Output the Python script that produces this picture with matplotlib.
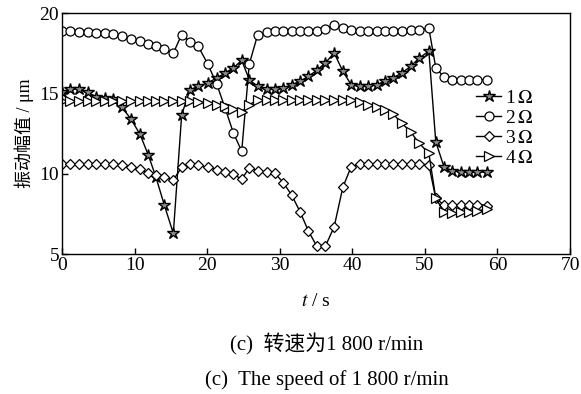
import numpy as np
import matplotlib
matplotlib.use('Agg')
import matplotlib.pyplot as plt

plt.rcParams['font.family'] = ['Liberation Serif', 'Noto Sans CJK SC']
plt.rcParams['mathtext.fontset'] = 'stix'

# sample times (s), shared by all four curves
t = [0.0, 1.1, 2.34, 3.54, 4.69, 5.93, 7.03, 8.23, 9.51, 10.75,
     11.89, 12.95, 14.1, 15.34, 16.49, 17.64, 18.78, 20.08, 21.32, 22.46,
     23.61, 24.76, 25.81, 26.97, 28.21, 29.35, 30.5, 31.65, 32.8, 33.94,
     35.1, 36.3, 37.5, 38.7, 39.85, 41.0, 42.2, 43.36, 44.51, 45.65,
     46.81, 48.05, 49.2, 50.55, 51.5, 52.65, 53.8, 54.95, 56.1, 57.25, 58.6]

amp_1 = [15.06, 15.27, 15.27, 15.06, 14.8, 14.7, 14.65, 14.15, 13.4, 12.45,
         11.17, 9.78, 8.05, 6.29, 13.67, 15.23, 15.43, 15.65, 15.96, 16.27,
         16.58, 17.06, 15.85, 15.43, 15.27, 15.27, 15.33, 15.54, 15.75, 16.06,
         16.43, 16.9, 17.52, 16.37, 15.54, 15.43, 15.43, 15.54, 15.75, 15.96,
         16.27, 16.68, 17.2, 17.62, 12.0, 10.4, 10.19, 10.13, 10.13, 10.13, 10.08]

amp_2 = [18.85, 18.85, 18.84, 18.8, 18.78, 18.74, 18.68, 18.55, 18.4, 18.25,
         18.1, 17.92, 17.75, 17.5, 18.66, 18.2, 17.92, 16.83, 15.58, 14.1,
         12.55, 11.4, 16.83, 18.66, 18.8, 18.86, 18.86, 18.86, 18.86, 18.86,
         18.86, 19.0, 19.25, 19.05, 18.95, 18.9, 18.9, 18.9, 18.9, 18.9,
         18.9, 18.95, 18.97, 19.05, 16.6, 16.0, 15.85, 15.85, 15.85, 15.85, 15.85]

amp_3 = [10.61, 10.61, 10.6, 10.6, 10.6, 10.59, 10.58, 10.55, 10.44, 10.28,
         10.03, 9.93, 9.8, 9.61, 10.4, 10.58, 10.52, 10.4, 10.25, 10.1,
         9.98, 9.66, 10.37, 10.18, 10.08, 10.03, 9.44, 8.67, 7.64, 6.45,
         5.5, 5.5, 6.7, 9.16, 10.44, 10.61, 10.61, 10.61, 10.61, 10.61,
         10.61, 10.61, 10.61, 10.55, 8.47, 8.05, 8.05, 8.05, 8.05, 8.05, 7.99]

amp_4 = [14.53, 14.55, 14.55, 14.55, 14.55, 14.55, 14.55, 14.55, 14.55, 14.55,
         14.55, 14.55, 14.55, 14.55, 14.52, 14.5, 14.45, 14.4, 14.3, 14.2,
         14.05, 13.85, 14.3, 14.6, 14.6, 14.6, 14.6, 14.6, 14.6, 14.6,
         14.6, 14.6, 14.6, 14.6, 14.6, 14.45, 14.3, 14.15, 13.98, 13.71,
         13.15, 12.6, 11.9, 11.28, 8.47, 7.64, 7.55, 7.6, 7.65, 7.7, 7.8]

labels = [r'1$\,\mathit{\Omega}$', r'2$\,\mathit{\Omega}$',
          r'3$\,\mathit{\Omega}$', r'4$\,\mathit{\Omega}$']

fig = plt.figure(figsize=(5.81, 3.94), dpi=100)
ax = fig.add_axes([0.1067, 0.355, 0.8744, 0.612])

lw = 1.0
ax.plot(t, amp_1, 'k-', marker='*', ms=9, mfc='0.55', mew=1.0, lw=lw, label=labels[0])
ax.plot(t, amp_2, 'k-', marker='o', ms=6.5, mfc='white', mew=0.9, lw=lw, label=labels[1])
ax.plot(t, amp_3, 'k-', marker='D', ms=5.5, mfc='white', mew=0.9, lw=lw, label=labels[2])
ax.plot(t, amp_4, 'k-', marker='>', ms=6.5, mfc='white', mew=0.9, lw=lw, label=labels[3])

ax.set_xlim(0, 70)
ax.set_ylim(5, 20)
ax.set_xticks(np.arange(0, 71, 10))
ax.set_yticks([5, 10, 15, 20])
ax.tick_params(direction='in', labelsize=14, length=4, width=1, pad=2)
for s in ax.spines.values():
    s.set_linewidth(1.0)

ax.set_ylabel('振动幅值 / μm', fontsize=13, labelpad=4)
ax.set_xlabel(r'$t$ / s', fontsize=14, labelpad=14)

ax.legend(loc='upper left', bbox_to_anchor=(0.815, 0.683), frameon=False,
          fontsize=14, handlelength=1.3, handletextpad=0.2, labelspacing=0.12,
          borderaxespad=0, borderpad=0)

fig.text(0.563, 0.125, '(c)  转速为1 800 r/min', ha='center', va='center', fontsize=15)
fig.text(0.563, 0.035, '(c)  The speed of 1 800 r/min', ha='center', va='center', fontsize=15)

plt.savefig('out.png', dpi=100)
